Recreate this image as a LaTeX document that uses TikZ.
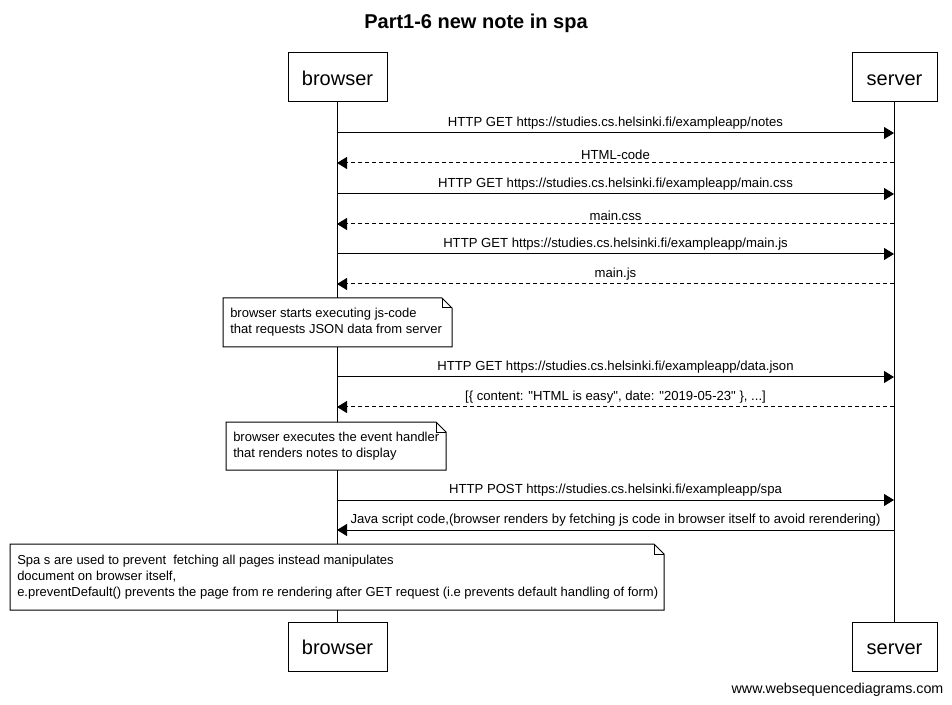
\documentclass[tikz,border=0pt]{standalone}
\usepackage{fontspec}
\setmainfont{Liberation Sans}[Ligatures=TeXOff]
\usetikzlibrary{arrows.meta,calc}
\tikzset{
  actor/.style={draw, line width=0.75pt, minimum width=74.25pt, minimum height=36.75pt, inner sep=0pt, text height=13.5pt, text depth=1pt, font=\fontsize{15}{18}\selectfont, fill=white},
  msg/.style={line width=0.75pt, -{Triangle[length=7.5pt,width=9pt]}},
  reply/.style={msg, dash pattern=on 3pt off 2.25pt},
  lbl/.style={font=\fontsize{9.85}{12}\selectfont, inner sep=0pt, above=2.5pt},
  notetext/.style={align=left, font=\fontsize{9.75}{12}\selectfont, inner sep=0pt},
  notebox/.style={draw, line width=0.75pt, fill=white},
  lifeline/.style={line width=0.75pt}
}
\begin{document}
\begin{tikzpicture}[x=0.75pt,y=-0.75pt]
\useasboundingbox[fill=white] (0,0) rectangle (952,705);
\node[font=\fontsize{15}{18}\selectfont\bfseries] (title) at (476,23) {Part1-6 new note in spa};
% participants
\node[actor, minimum width=74.25pt] (bt) at (337.5,77.5) {browser};
\node[actor, minimum width=63.75pt] (st) at (894.5,77.5) {server};
\node[actor, minimum width=74.25pt] (bb) at (337.5,646.5) {browser};
\node[actor, minimum width=63.75pt] (sb) at (894.5,646.5) {server};
\draw[lifeline] (bt.south) -- (bb.north);
\draw[lifeline] (st.south) -- (sb.north);
% points on lifelines
\foreach \n/\y in {1/133,2/163,3/194,4/224,5/254,6/284,7/377,8/407,9/500,10/530}{
  \coordinate (b\n) at (337,\y);
  \coordinate (s\n) at (894,\y);
}
\draw[msg] (b1) -- (s1) node[midway,lbl] {HTTP GET https://studies.cs.helsinki.fi/exampleapp/notes};
\draw[reply] (s2) -- (b2) node[midway,lbl] {HTML-code};
\draw[msg] (b3) -- (s3) node[midway,lbl] {HTTP GET https://studies.cs.helsinki.fi/exampleapp/main.css};
\draw[reply] (s4) -- (b4) node[midway,lbl] {main.css};
\draw[msg] (b5) -- (s5) node[midway,lbl] {HTTP GET https://studies.cs.helsinki.fi/exampleapp/main.js};
\draw[reply] (s6) -- (b6) node[midway,lbl] {main.js};
\draw[msg] (b7) -- (s7) node[midway,lbl] {HTTP GET https://studies.cs.helsinki.fi/exampleapp/data.json};
\draw[reply] (s8) -- (b8) node[midway,lbl] {[\{ content: "HTML is easy", date: "2019-05-23" \}, ...]};
\draw[msg] (b9) -- (s9) node[midway,lbl] {HTTP POST https://studies.cs.helsinki.fi/exampleapp/spa};
\draw[msg] (s10) -- (b10) node[midway,lbl] {Java script code,(browser renders by fetching js code in browser itself to avoid rerendering)};
% note 1
\draw[notebox] (223,298) -- (442,298) -- (452,308) -- (452,347) -- (223,347) -- cycle;
\draw[line width=0.75pt] (442,298) -- (442,308) -- (452,308);
\node[notetext, anchor=west] (n1) at (230,322.5) {browser starts executing js-code\\that requests JSON data from server};
% note 2
\draw[notebox] (226,422) -- (436,422) -- (446,432) -- (446,470) -- (226,470) -- cycle;
\draw[line width=0.75pt] (436,422) -- (436,432) -- (446,432);
\node[notetext, anchor=west] (n2) at (233,446) {browser executes the event handler\\that renders notes to display};
% note 3
\draw[notebox] (10,544) -- (654,544) -- (664,554) -- (664,610) -- (10,610) -- cycle;
\draw[line width=0.75pt] (654,544) -- (654,554) -- (664,554);
\node[notetext, anchor=west] (n3) at (17,577) {Spa s are used to prevent\ \ fetching all pages instead manipulates\\document on browser itself,\\e.preventDefault() prevents the page from re rendering after GET request (i.e prevents default handling of form)};
\node[font=\fontsize{10.7}{12}\selectfont, inner sep=0pt] (wsd) at (837.5,690) {www.websequencediagrams.com};
\end{tikzpicture}
\end{document}
